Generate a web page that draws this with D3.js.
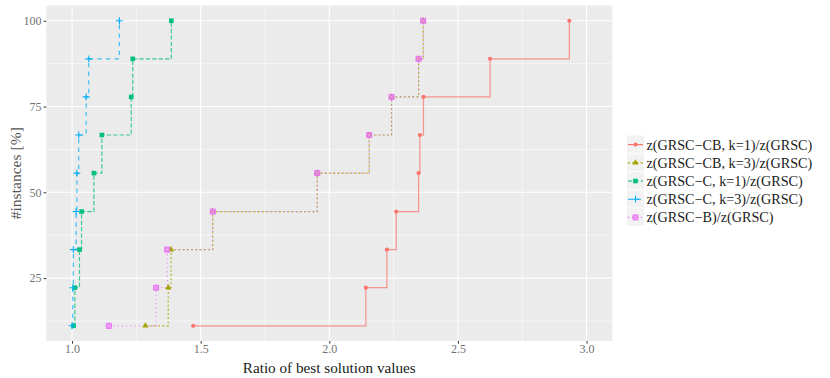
<!DOCTYPE html>
<html>
<head>
<meta charset="utf-8">
<script src="https://cdn.jsdelivr.net/npm/d3@7"></script>
<style>
  body { margin: 0; background: #fff; }
</style>
</head>
<body>
<svg id="chart" width="830" height="378"></svg>
<script>
// Share of instances (y) reached at each ratio (x)
var instancePct = [11.1, 22.2, 33.3, 44.4, 55.6, 66.7, 77.8, 88.9, 100];

// Ratios per heuristic
var cbK1 = [1.471, 2.142, 2.224, 2.260, 2.347, 2.352, 2.366, 2.625, 2.933];
var cbK3 = [1.285, 1.374, 1.385, 1.547, 1.953, 2.155, 2.242, 2.347, 2.365];
var cK1 = [1.006, 1.011, 1.029, 1.037, 1.085, 1.116, 1.230, 1.236, 1.386];
var cK3 = [1.000, 1.003, 1.005, 1.016, 1.019, 1.026, 1.055, 1.065, 1.184];
var bOnly = [1.143, 1.327, 1.370, 1.547, 1.953, 2.155, 2.242, 2.347, 2.365];

var seriesLabels = [
    "z(GRSC\u2212CB, k=1)/z(GRSC)",
    "z(GRSC\u2212CB, k=3)/z(GRSC)",
    "z(GRSC\u2212C, k=1)/z(GRSC)",
    "z(GRSC\u2212C, k=3)/z(GRSC)",
    "z(GRSC\u2212B)/z(GRSC)"
];

var xTicks = [1.0, 1.5, 2.0, 2.5, 3.0];
var yTicks = [25, 50, 75, 100];

// ggplot default hues, linetypes and shapes
var colors = ["#F8766D", "#A3A500", "#00BF7D", "#00B0F6", "#E76BF3"];
var dashes = [null, "2.1,2.1", "4.3,2.1", "4.3,4.3", "1.1,3.2"];
var shapes = ["circle", "triangle", "square", "plus", "squarecross"];

var serifFont = "'Liberation Serif', 'Times New Roman', 'DejaVu Serif', serif";

var series = [cbK1, cbK3, cK1, cK3, bOnly].map(function(xs, i) {
    return {
        name: seriesLabels[i],
        color: colors[i],
        dash: dashes[i],
        shape: shapes[i],
        points: xs.map(function(x, j) { return {x: x, y: instancePct[j]}; })
    };
});

var svg = d3.select("#chart")
    .attr("font-family", serifFont);

// Panel position
var margin = {top: 5.5, left: 46.3};
var width = 566;
var height = 335.5;

var x = d3.scaleLinear()
    .domain([0.9, 3.1])
    .range([0, width]);

var y = d3.scaleLinear()
    .domain([6.67, 104.44])
    .range([height, 0]);

var g = svg.append("g")
    .attr("transform", `translate(${margin.left}, ${margin.top})`);

// Panel background and grid
g.append("rect")
    .attr("width", width)
    .attr("height", height)
    .attr("fill", "#EBEBEB");

var xMinor = [1.25, 1.75, 2.25, 2.75];
var yMinor = [12.5, 37.5, 62.5, 87.5];

g.selectAll(".xminor")
    .data(xMinor)
    .join("line")
    .attr("x1", d => x(d)).attr("x2", d => x(d))
    .attr("y1", 0).attr("y2", height)
    .attr("stroke", "#fff").attr("stroke-width", 0.55);

g.selectAll(".yminor")
    .data(yMinor)
    .join("line")
    .attr("y1", d => y(d)).attr("y2", d => y(d))
    .attr("x1", 0).attr("x2", width)
    .attr("stroke", "#fff").attr("stroke-width", 0.55);

g.selectAll(".xmajor")
    .data(xTicks)
    .join("line")
    .attr("x1", d => x(d)).attr("x2", d => x(d))
    .attr("y1", 0).attr("y2", height)
    .attr("stroke", "#fff").attr("stroke-width", 1.1);

g.selectAll(".ymajor")
    .data(yTicks)
    .join("line")
    .attr("y1", d => y(d)).attr("y2", d => y(d))
    .attr("x1", 0).attr("x2", width)
    .attr("stroke", "#fff").attr("stroke-width", 1.1);

// Axes
var xAxis = g.append("g")
    .attr("transform", `translate(0, ${height})`)
    .call(d3.axisBottom(x).tickValues(xTicks).tickFormat(d3.format(".1f"))
        .tickSizeInner(2.7).tickSizeOuter(0).tickPadding(1));

var yAxis = g.append("g")
    .call(d3.axisLeft(y).tickValues(yTicks).tickFormat(d3.format("d"))
        .tickSizeInner(2.7).tickSizeOuter(0).tickPadding(2));

[xAxis, yAxis].forEach(function(ax) {
    ax.attr("font-family", serifFont).attr("font-size", 12);
    ax.select(".domain").remove();
    ax.selectAll(".tick line").attr("stroke", "#333").attr("stroke-width", 1);
    ax.selectAll(".tick text").attr("fill", "#727272");
});

// Axis titles
svg.append("text")
    .attr("x", margin.left + width / 2)
    .attr("y", 372.5)
    .attr("text-anchor", "middle")
    .attr("fill", "#1a1a1a")
    .attr("font-size", 15.2)
    .text("Ratio of best solution values");

svg.append("text")
    .attr("transform", `translate(20.5, ${margin.top + height / 2}) rotate(-90)`)
    .attr("text-anchor", "middle")
    .attr("fill", "#555")
    .attr("font-size", 15.6)
    .text("#instances [%]");

// Marker drawing helper
var drawMarker = function(sel, shape, color) {
    if (shape === "circle") {
        sel.append("circle").attr("r", 2.1).attr("fill", color);
    } else if (shape === "triangle") {
        sel.append("path")
            .attr("d", d3.symbol(d3.symbolTriangle, 17)())
            .attr("fill", color);
    } else if (shape === "square") {
        sel.append("rect")
            .attr("x", -2.3).attr("y", -2.3)
            .attr("width", 4.6).attr("height", 4.6)
            .attr("fill", color);
    } else if (shape === "plus") {
        sel.append("path")
            .attr("d", "M-3.4,0H3.4M0,-3.4V3.4")
            .attr("stroke", color).attr("stroke-width", 1.1)
            .attr("fill", "none");
    } else {
        sel.append("rect")
            .attr("x", -2.5).attr("y", -2.5)
            .attr("width", 5).attr("height", 5)
            .attr("fill", color).attr("fill-opacity", 0.75)
            .attr("stroke", color).attr("stroke-width", 0.9);
        sel.append("path")
            .attr("d", "M-2.5,-2.5L2.5,2.5M-2.5,2.5L2.5,-2.5")
            .attr("stroke", "#f4b8f7").attr("stroke-width", 0.6);
    }
};

// Step lines
var line = d3.line()
    .x(d => x(d.x))
    .y(d => y(d.y))
    .curve(d3.curveStepAfter);

g.selectAll(".step")
    .data(series)
    .join("path")
    .attr("class", "step")
    .attr("d", d => line(d.points))
    .attr("fill", "none")
    .attr("stroke", d => d.color)
    .attr("stroke-width", 1.2)
    .attr("stroke-opacity", 0.75)
    .attr("stroke-dasharray", d => d.dash);

// Points on top
series.forEach(function(s) {
    g.selectAll(null)
        .data(s.points)
        .join("g")
        .attr("transform", d => `translate(${x(d.x)}, ${y(d.y)})`)
        .each(function() { drawMarker(d3.select(this), s.shape, s.color); });
});

// Legend
var legend = svg.append("g")
    .attr("transform", "translate(627, 135.5)");

var keyH = 18.2;

legend.selectAll(".key")
    .data(series)
    .join("g")
    .attr("transform", (d, i) => `translate(0, ${i * keyH})`)
    .each(function(d) {
        var k = d3.select(this);
        k.append("rect")
            .attr("width", 17).attr("height", keyH - 0.9)
            .attr("fill", "#F2F2F2");
        k.append("line")
            .attr("x1", 1).attr("x2", 16)
            .attr("y1", keyH / 2).attr("y2", keyH / 2)
            .attr("stroke", d.color).attr("stroke-width", 1.15)
            .attr("stroke-dasharray", d.dash);
        var m = k.append("g")
            .attr("transform", `translate(8.5, ${keyH / 2})`);
        drawMarker(m, d.shape, d.color);
        k.append("text")
            .attr("x", 19.5)
            .attr("y", keyH / 2)
            .attr("dy", "0.35em")
            .attr("fill", "#1a1a1a")
            .attr("font-size", 14.2)
            .text(d.name);
    });
</script>
</body>
</html>
